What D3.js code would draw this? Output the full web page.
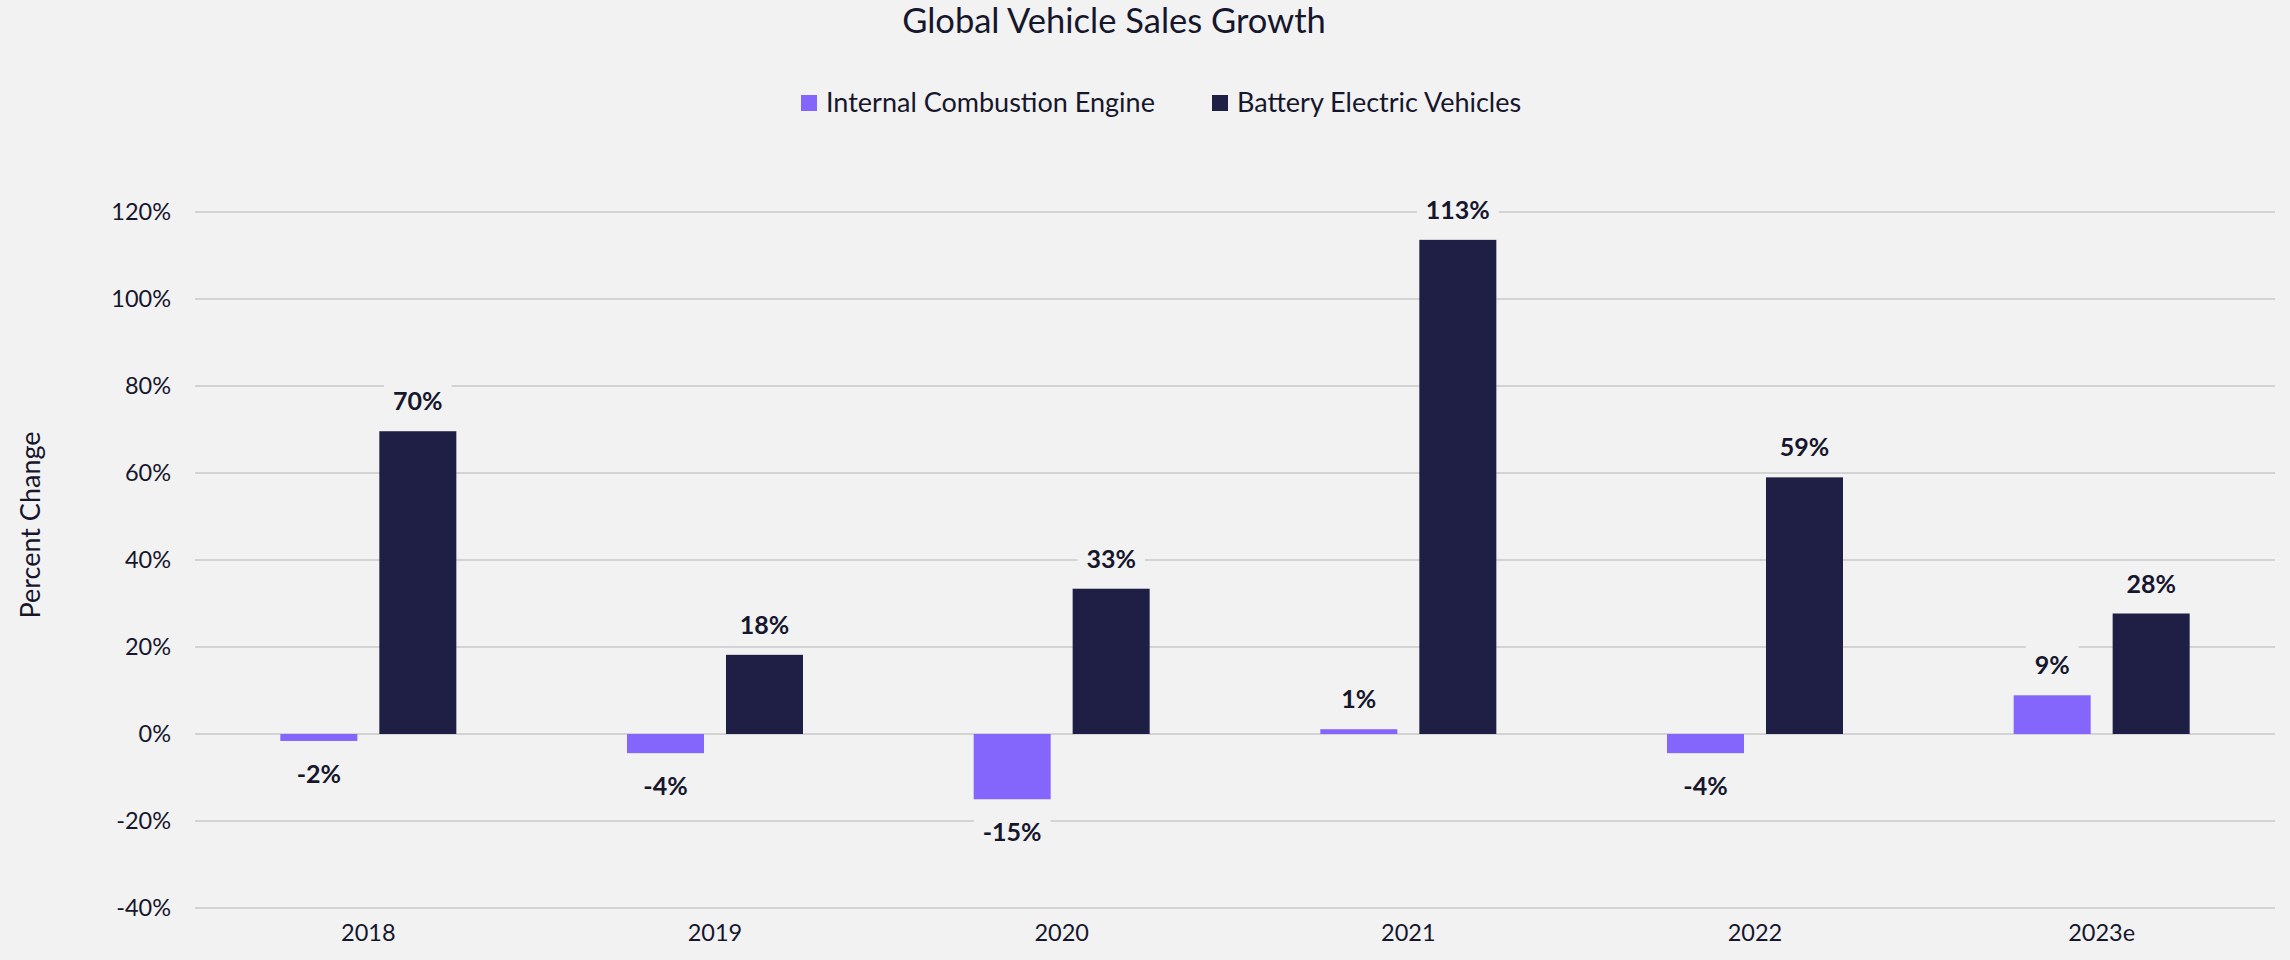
<!DOCTYPE html>
<html>
<head>
<meta charset="utf-8">
<script src="https://cdn.jsdelivr.net/npm/d3@7"></script>
<style>
  html, body { margin: 0; padding: 0; background: #f2f2f2; }
  svg text { font-family: Lato, "Noto Sans", sans-serif; fill: #16162c; }
</style>
</head>
<body>
<div id="chart"></div>
<script>
const years = ["2018", "2019", "2020", "2021", "2022", "2023e"];
const seriesNames = ["Internal Combustion Engine", "Battery Electric Vehicles"];
const iceGrowth = [-1.6, -4.4, -15.0, 1.1, -4.4, 8.9];
const bevGrowth = [69.6, 18.2, 33.4, 113.6, 59.0, 27.7];
const iceLabels = ["-2%", "-4%", "-15%", "1%", "-4%", "9%"];
const bevLabels = ["70%", "18%", "33%", "113%", "59%", "28%"];
const yTicks = [-40, -20, 0, 20, 40, 60, 80, 100, 120];
const colors = ["#8466fd", "#1f1f45"];

const width = 2290, height = 960;
const margin = { top: 212, right: 15, bottom: 52, left: 195 };

const svg = d3.select("#chart").append("svg")
  .attr("width", width)
  .attr("height", height);

svg.append("rect").attr("width", width).attr("height", height).attr("fill", "#f2f2f2");

const x0 = d3.scaleBand()
  .domain(years)
  .range([margin.left, width - margin.right]);

const bw = x0.bandwidth();
const x1 = d3.scaleBand()
  .domain(seriesNames)
  .range([bw / 2 - 88, bw / 2 + 88])
  .paddingInner(0.222);

const y = d3.scaleLinear()
  .domain([-40, 120])
  .range([height - margin.bottom, margin.top]);

// gridlines
svg.append("g")
  .selectAll("line")
  .data(yTicks)
  .join("line")
  .attr("x1", margin.left)
  .attr("x2", width - margin.right)
  .attr("y1", d => y(d))
  .attr("y2", d => y(d))
  .attr("stroke", "#c9c8cd")
  .attr("stroke-width", 1.5);

// y axis labels
const yAxis = d3.axisLeft(y).tickValues(yTicks).tickFormat(d => d + "%").tickSize(0).tickPadding(24);
const yg = svg.append("g").attr("transform", `translate(${margin.left},0)`).call(yAxis);
yg.select(".domain").remove();
yg.selectAll("text").attr("font-size", 23.5).attr("font-family", null);

// x axis labels
const xAxis = d3.axisBottom(x0).tickSize(0).tickPadding(0);
const xg = svg.append("g").attr("transform", `translate(0,${height - 27})`).call(xAxis);
xg.select(".domain").remove();
xg.selectAll("text").attr("font-size", 23.5).attr("font-family", null).attr("dy", "0.32em");

const rows = years.map((yr, i) => ({
  year: yr,
  values: [
    { key: seriesNames[0], value: iceGrowth[i], label: iceLabels[i], color: colors[0] },
    { key: seriesNames[1], value: bevGrowth[i], label: bevLabels[i], color: colors[1] }
  ]
}));

const groups = svg.append("g")
  .selectAll("g")
  .data(rows)
  .join("g")
  .attr("transform", d => `translate(${x0(d.year)},0)`);

groups.selectAll("rect")
  .data(d => d.values)
  .join("rect")
  .attr("x", d => x1(d.key))
  .attr("width", x1.bandwidth())
  .attr("y", d => y(Math.max(0, d.value)))
  .attr("height", d => Math.abs(y(d.value) - y(0)))
  .attr("fill", d => d.color);

// data labels with background box
const lab = groups.selectAll("g.lab")
  .data(d => d.values)
  .join("g")
  .attr("class", "lab")
  .attr("transform", d => {
    const cx = x1(d.key) + x1.bandwidth() / 2;
    const cy = d.value >= 0 ? y(d.value) - 30 : y(d.value) + 33;
    return `translate(${cx},${cy})`;
  });

lab.append("text")
  .attr("text-anchor", "middle")
  .attr("dy", "0.36em")
  .attr("font-size", 25)
  .attr("font-weight", "bold")
  .text(d => d.label);

lab.each(function () {
  const g = d3.select(this);
  const w = g.select("text").node().getComputedTextLength();
  g.insert("rect", "text")
    .attr("x", -w / 2 - 9)
    .attr("y", -21)
    .attr("width", w + 18)
    .attr("height", 42)
    .attr("fill", "#f2f2f2");
});

// title
svg.append("text")
  .attr("x", 1114)
  .attr("y", 21)
  .attr("dy", "0.35em")
  .attr("text-anchor", "middle")
  .attr("font-size", 34.5)
  .text("Global Vehicle Sales Growth");

// legend
const legend = svg.append("g").attr("transform", "translate(801,103)");
const legendX = [0, 411];
seriesNames.forEach((name, i) => {
  const item = legend.append("g").attr("transform", `translate(${legendX[i]},0)`);
  item.append("rect").attr("x", 0).attr("y", -8).attr("width", 16).attr("height", 16).attr("fill", colors[i]);
  item.append("text").attr("x", 25).attr("dy", "0.35em").attr("font-size", 27).text(name);
});

// y axis title
svg.append("text")
  .attr("transform", "translate(31,525) rotate(-90)")
  .attr("text-anchor", "middle")
  .attr("dy", "0.35em")
  .attr("font-size", 27)
  .text("Percent Change");
</script>
</body>
</html>
